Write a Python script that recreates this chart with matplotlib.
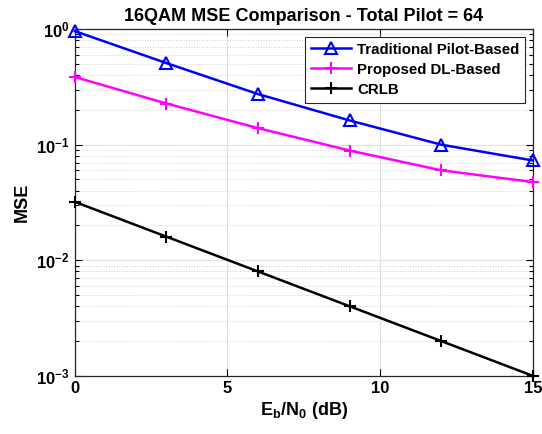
import matplotlib.pyplot as plt
from matplotlib.ticker import LogLocator, NullFormatter

snr_db = [0, 3, 6, 9, 12, 15]
mse_traditional = [0.96, 0.508, 0.274, 0.162, 0.100, 0.073]
mse_proposed = [0.385, 0.227, 0.139, 0.089, 0.060, 0.0475]
mse_crlb = [0.032, 0.016, 0.008, 0.004, 0.002, 0.001]

plt.rcParams['font.family'] = ['Liberation Sans', 'DejaVu Sans']
plt.rcParams['font.weight'] = 'bold'
plt.rcParams['mathtext.default'] = 'regular'

fig = plt.figure(figsize=(5.42, 4.34), dpi=100)
ax = fig.add_axes([0.138, 0.134, 0.845, 0.799])

ax.semilogy(snr_db, mse_traditional, color='#0000ff', lw=1.8, marker='^',
            ms=8, mfc='none', mew=1.5, clip_on=False, zorder=3,
            label='Traditional Pilot-Based')
ax.semilogy(snr_db, mse_proposed, color='#ff00ff', lw=1.8, marker='+',
            ms=8, mew=1.5, clip_on=False, zorder=3, label='Proposed DL-Based')
ax.semilogy(snr_db, mse_crlb, color='black', lw=1.8, marker='+',
            ms=8, mew=1.5, clip_on=False, zorder=3, label='CRLB')

ax.set_xlim(0, 15)
ax.set_ylim(1e-3, 1)
ax.set_xticks([0, 5, 10, 15])
ax.yaxis.set_major_locator(LogLocator(base=10, numticks=10))
ax.yaxis.set_minor_locator(LogLocator(base=10, subs=range(2, 10), numticks=20))
ax.yaxis.set_minor_formatter(NullFormatter())

ax.grid(True, which='major', color='#e0e0e0', lw=0.8, ls='-')
ax.grid(True, which='minor', axis='y', color='#d0d0d0', lw=0.7, ls=':')
ax.set_axisbelow(True)

ax.tick_params(which='both', direction='in', top=True, right=True,
               labelsize=12, width=0.8)
ax.tick_params(which='major', length=5)
ax.tick_params(which='minor', length=3)
for sp in ax.spines.values():
    sp.set_linewidth(0.9)
    sp.set_color('#262626')

ax.set_title('16QAM MSE Comparison - Total Pilot = 64', fontsize=13,
             fontweight='bold', pad=6)
ax.set_xlabel('E$_b$/N$_0$ (dB)', fontsize=13, fontweight='bold', labelpad=3)
ax.set_ylabel('MSE', fontsize=13, fontweight='bold')

leg = ax.legend(loc='upper right', fontsize=10.8, fancybox=False,
                edgecolor='#262626', framealpha=1, borderaxespad=0.5,
                handlelength=2.7, labelspacing=0.4, borderpad=0.4,
                handletextpad=0.4)
leg.get_frame().set_linewidth(0.8)
leg.set_zorder(5)

fig.savefig('out.png', dpi=100)
